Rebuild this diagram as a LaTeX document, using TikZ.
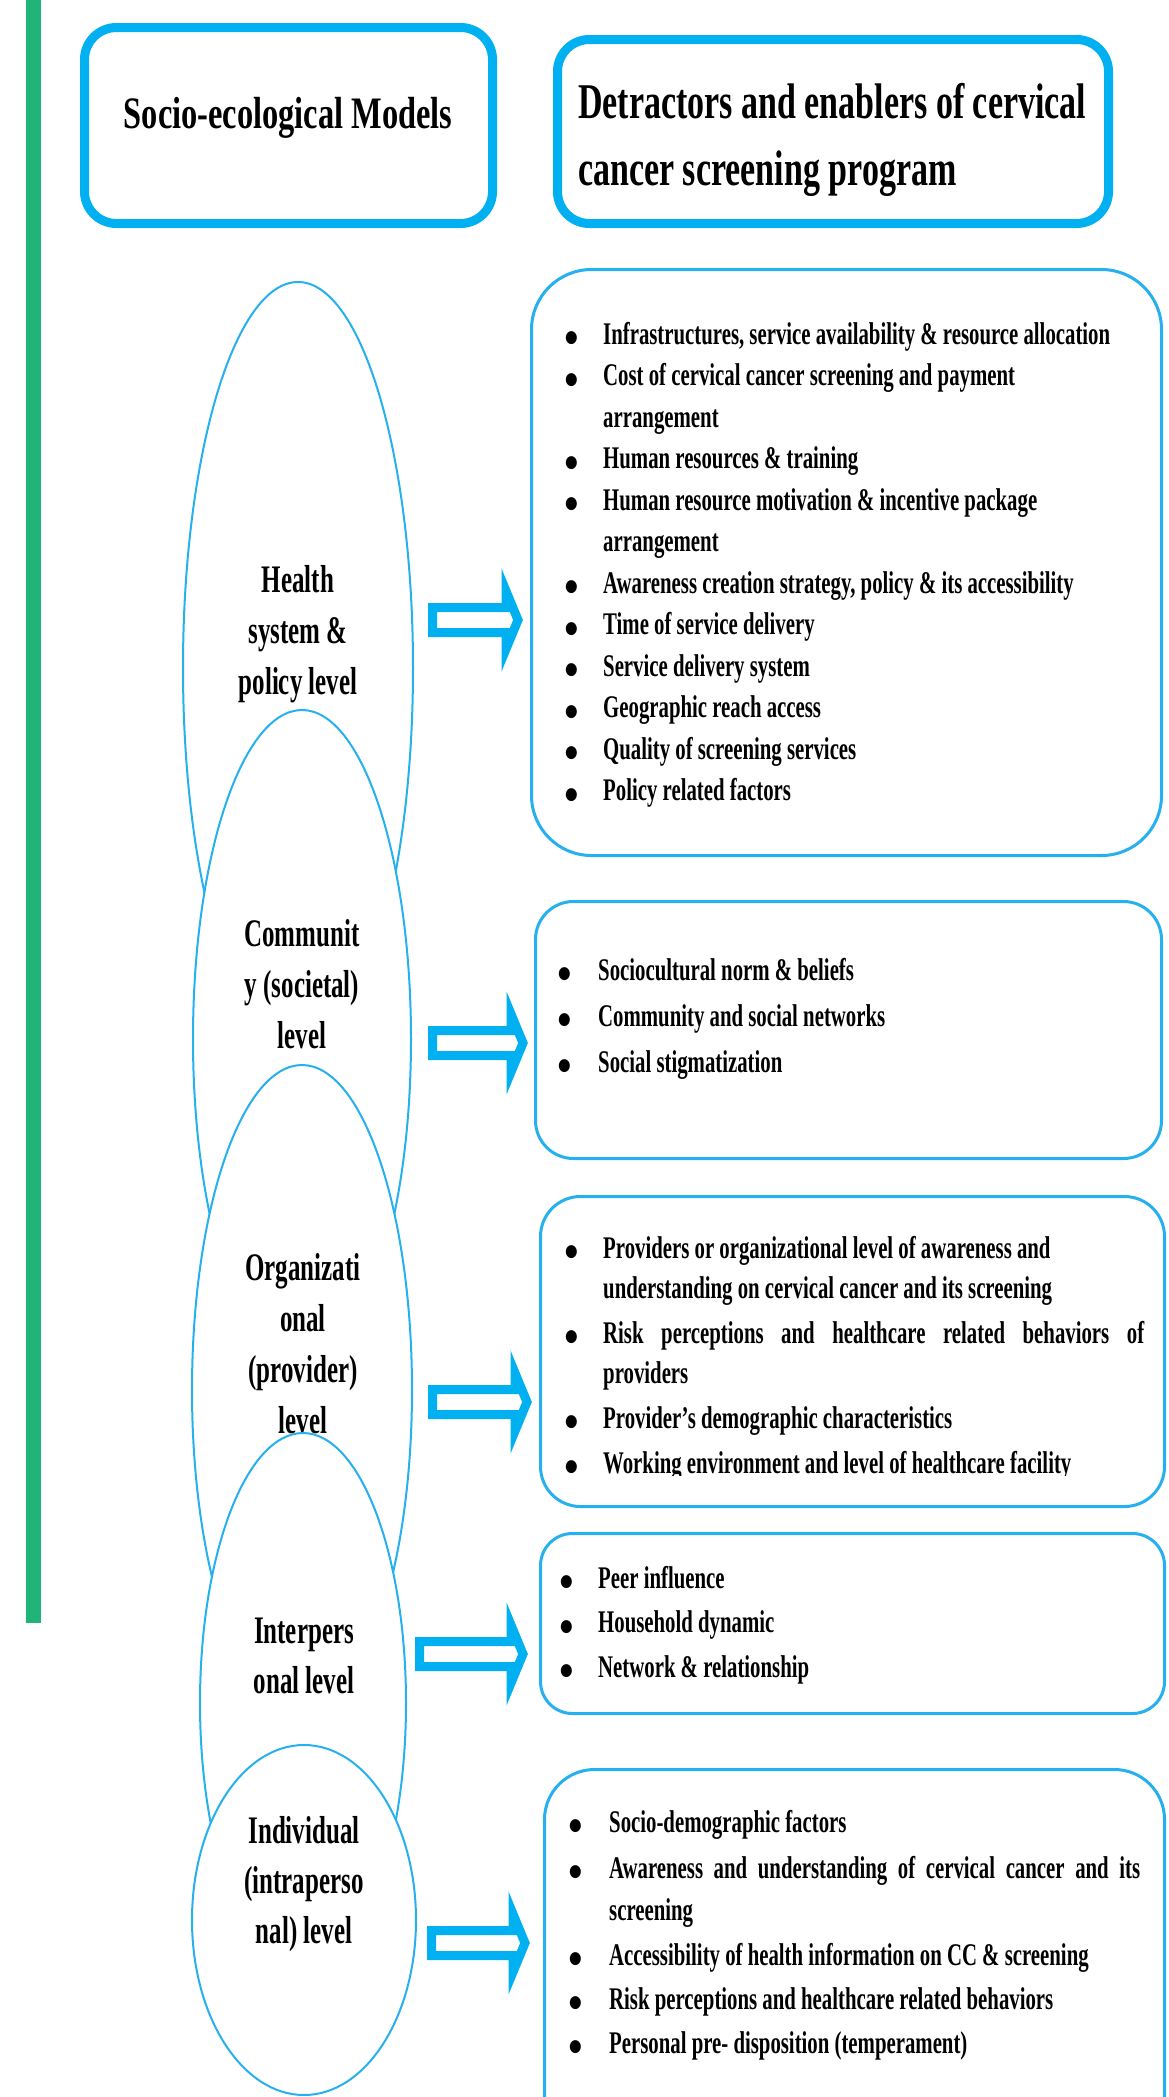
\documentclass[tikz,border=0pt]{standalone}
\usepackage{fontspec}
\newfontfamily\hdA{Liberation Serif}[FakeStretch=0.72]
\newfontfamily\hdB{Liberation Serif}[FakeStretch=0.68]
\newfontfamily\elf{Liberation Serif}[FakeStretch=0.64]
\newfontfamily\bdf{Liberation Serif}[FakeStretch=0.66]
\newfontfamily\dotf{DejaVu Sans}[FakeStretch=0.85]
\usetikzlibrary{shapes.geometric,calc}
\definecolor{cyanb}{RGB}{0,176,240}
\definecolor{lineb}{RGB}{38,176,238}
\definecolor{greenbar}{RGB}{33,180,122}
\newcommand\bdot{\raisebox{1.5pt}{\dotf\fontsize{17}{17}\selectfont ●}}
\newcommand\bli[2]{\hbox{\hbox to #1{\bdot\hfil}#2}}
\newcommand\cli[2]{\hbox{\hskip #1\relax #2}}
\newcommand\jli[3]{\hbox{\hbox to #1{\bdot\hfil}\hbox to #2{#3}}}
\newcommand\ctrlines[1]{\vtop{\halign{\hfil##\hfil\cr#1\crcr}}}
\begin{document}
\begin{tikzpicture}[x=1pt,y=-1pt,
  ellip/.style={ellipse, draw=lineb, line width=2pt, fill=white, inner sep=0pt},
  headbox/.style={draw=cyanb, line width=9pt, rounded corners=32pt, fill=white, inner sep=0pt},
  listbox/.style={draw=lineb, line width=3pt, rounded corners=#1, inner sep=0pt},
  ltext/.style={anchor=base west, inner sep=0pt},
  etext/.style={anchor=base, inner sep=0pt},
  blockarrow/.style={draw=cyanb, line width=9pt, fill=white, line join=miter, miter limit=10,
    to path={($(\tikztostart)+(0,-12.5)$) -- ($(\tikztotarget)+(-12,-12.5)$) -- ($(\tikztotarget)+(-12,-29)$) -- (\tikztotarget) -- ($(\tikztotarget)+(-12,29)$) -- ($(\tikztotarget)+(-12,12.5)$) -- ($(\tikztostart)+(0,12.5)$) -- cycle}}
]
\fill[white] (0,0) rectangle (1168,2097);
\clip (0,0) rectangle (1168,2097);
\fill[greenbar] (26,0) rectangle (41,1623);

% header boxes
\node[headbox, minimum width=408pt, minimum height=196pt] (hl) at (288.5,125.5) {};
\node[headbox, minimum width=551pt, minimum height=184pt] (hr) at (833,131.5) {};
\node[etext] (hlt) at (288,128) {\hdA\bfseries\fontsize{45}{50}\selectfont Socio-ecological Models};
\node[ltext] (hrt) at (578,118) {\vtop{\hdB\bfseries\fontsize{50}{67}\selectfont\hbox{Detractors and enablers of cervical}\hbox{cancer screening program}}};

% ellipses
\node[ellip, minimum width=230pt, minimum height=772pt] (e1) at (298,668) {};
\node[etext] (t1) at (298,592) {\elf\bfseries\fontsize{39}{51}\selectfont\ctrlines{Health\cr system \&\cr policy level}};
\node[ellip, minimum width=218pt, minimum height=658pt] (e2) at (302,1039) {};
\node[etext] (t2) at (302,946) {\elf\bfseries\fontsize{39}{51}\selectfont\ctrlines{Communit\cr y (societal)\cr level}};
\node[ellip, minimum width=220pt, minimum height=650pt] (e3) at (302,1390) {};
\node[etext] (t3) at (303,1280) {\elf\bfseries\fontsize{39}{51}\selectfont\ctrlines{Organizati\cr onal\cr (provider)\cr level}};
\node[ellip, minimum width=206pt, minimum height=540pt] (e4) at (303,1703) {};
\node[etext] (t4) at (304,1643) {\elf\bfseries\fontsize{39}{50}\selectfont\ctrlines{Interpers\cr onal level}};
\node[ellip, minimum width=224pt, minimum height=350pt] (e5) at (304,1920) {};
\node[etext] (t5) at (304,1843) {\elf\bfseries\fontsize{39}{50}\selectfont\ctrlines{Individual\cr (intraperso\cr nal) level}};

% list boxes
\node[listbox=60pt, minimum width=630pt, minimum height=586pt] (b1) at (846.5,562.5) {};
\node[listbox=38pt, minimum width=626pt, minimum height=257pt] (b2) at (848.5,1030) {};
\node[listbox=40pt, minimum width=624pt, minimum height=310pt] (b3) at (852.5,1351.5) {};
\node[listbox=32pt, minimum width=624pt, minimum height=180pt] (b4) at (852.5,1623.5) {};
\node[listbox=50pt, minimum width=620pt, minimum height=389pt] (b5) at (854.5,1964) {};

\node[ltext] (l1) at (565,344) {\vtop{\bdf\bfseries\fontsize{31.5}{41.5}\selectfont
\bli{38pt}{Infrastructures, service availability \& resource allocation}
\bli{38pt}{Cost of cervical cancer screening and payment}
\cli{38pt}{arrangement}
\bli{38pt}{Human resources \& training}
\bli{38pt}{Human resource motivation \& incentive package}
\cli{38pt}{arrangement}
\bli{38pt}{Awareness creation strategy, policy \& its accessibility}
\bli{38pt}{Time of service delivery}
\bli{38pt}{Service delivery system}
\bli{38pt}{Geographic reach access}
\bli{38pt}{Quality of screening services}
\bli{38pt}{Policy related factors}}};

\node[ltext] (l2) at (558,980) {\vtop{\bdf\bfseries\fontsize{31.5}{46}\selectfont
\bli{40pt}{Sociocultural norm \& beliefs}
\bli{40pt}{Community and social networks}
\bli{40pt}{Social stigmatization}}};

\begin{scope}
\clip (540,1190) rectangle (1168,1475);
\node[ltext] (l3) at (565,1258) {\vtop{\bdf\bfseries\fontsize{31.5}{40}\selectfont
\bli{38pt}{Providers or organizational level of awareness and}
\cli{38pt}{understanding on cervical cancer and its screening}
\vskip5pt
\jli{38pt}{541pt}{Risk perceptions and healthcare related behaviors of}
\cli{38pt}{providers}
\vskip5pt
\bli{38pt}{Provider’s demographic characteristics}
\vskip5pt
\bli{38pt}{Working environment and level of healthcare facility}}};
\end{scope}

\node[ltext] (l4) at (560,1588) {\vtop{\bdf\bfseries\fontsize{31.5}{44.5}\selectfont
\bli{38pt}{Peer influence}
\bli{38pt}{Household dynamic}
\bli{38pt}{Network \& relationship}}};

\node[ltext] (l5) at (569,1832) {\vtop{\bdf\bfseries\fontsize{31.5}{42}\selectfont
\bli{40pt}{Socio-demographic factors}
\vskip4pt
\jli{40pt}{531pt}{Awareness and understanding of cervical cancer and its}
\cli{40pt}{screening}
\vskip3pt
\bli{40pt}{Accessibility of health information on CC \& screening}
\vskip2pt
\bli{40pt}{Risk perceptions and healthcare related behaviors}
\vskip2pt
\bli{40pt}{Personal pre- disposition (temperament)}}};

% arrows
\coordinate (a1s) at (432.5,620);  \coordinate (a1e) at (518,620);
\coordinate (a2s) at (432.5,1043); \coordinate (a2e) at (523,1043);
\coordinate (a3s) at (432.5,1402); \coordinate (a3e) at (527,1402);
\coordinate (a4s) at (419.5,1654); \coordinate (a4e) at (523,1654);
\coordinate (a5s) at (431.5,1943); \coordinate (a5e) at (525,1943);
\draw[blockarrow] (a1s) to (a1e);
\draw[blockarrow] (a2s) to (a2e);
\draw[blockarrow] (a3s) to (a3e);
\draw[blockarrow] (a4s) to (a4e);
\draw[blockarrow] (a5s) to (a5e);
\end{tikzpicture}
\end{document}
